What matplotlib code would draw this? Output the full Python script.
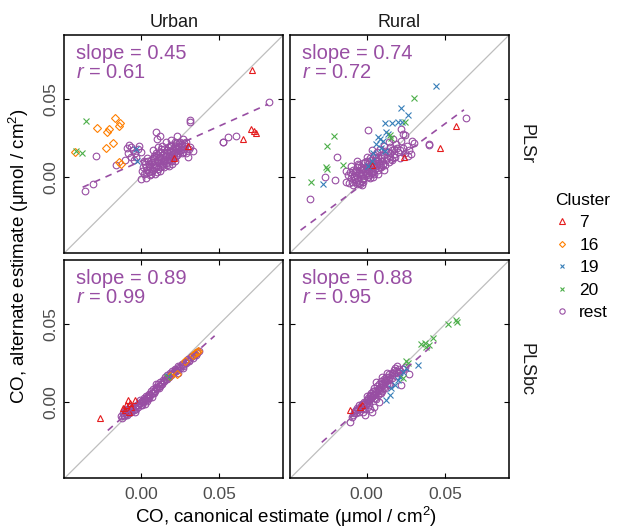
import matplotlib.pyplot as plt
from matplotlib.lines import Line2D
import numpy as np

plt.rcParams['font.family'] = ['Liberation Sans', 'DejaVu Sans']
plt.rcParams['mathtext.fontset'] = 'custom'
plt.rcParams['mathtext.rm'] = 'Liberation Sans'
plt.rcParams['mathtext.it'] = 'Liberation Sans:italic'

regions = ['Urban', 'Rural']
methods = ['PLSr', 'PLSbc']
clusters = ['7', '16', '19', '20', 'rest']

# (canonical, alternate) CO pairs per cluster, one dict per panel
urban_plsr = {
    '7': [(0.0706, 0.0682), (0.0653, 0.0243), (0.0702, 0.0307), (0.0723, 0.0296),
          (0.0732, 0.0281), (0.0298, 0.0195), (0.0211, 0.0118)],
    '16': [(-0.0162, 0.0376), (-0.0134, 0.0343), (-0.0138, 0.0328), (-0.0277, 0.0315),
           (-0.0202, 0.0307), (-0.0213, 0.0285), (-0.0177, 0.0215), (-0.0219, 0.0182),
           (-0.0421, 0.0157), (-0.0138, 0.0092), (-0.0128, 0.0082)],
    '19': [(-0.0028, 0.0178), (-0.0023, 0.0103)],
    '20': [(-0.0351, 0.0356), (-0.0411, 0.0163), (-0.0374, 0.0150)],
    'rest': [(-0.0357, -0.0090), (-0.0302, -0.0043), (-0.0283, 0.0131), (-0.0155, 0.0075),
             (0.0004, -0.0011), (0.0313, 0.0365), (0.0315, 0.0352), (0.0096, 0.0285),
             (0.0121, 0.0262), (0.0104, 0.0245), (0.0525, 0.0221), (0.0553, 0.0258),
             (0.0604, 0.0260), (0.0813, 0.0479), (0.0313, 0.0188), (0.0334, 0.0167),
             (0.0521, 0.0225), (-0.0075, 0.0205), (-0.0060, 0.0190), (-0.0050, 0.0170),
             (-0.0080, 0.0150), (-0.0040, 0.0150), (-0.0020, 0.0175), (-0.0065, 0.0125),
             (-0.0100, 0.0110), (-0.0030, 0.0130), (-0.0010, 0.0200), (0.0000, 0.0160),
             (-0.0045, 0.0110), (-0.0085, 0.0185), (0.0010, 0.0040), (0.0020, 0.0020),
             (0.0030, 0.0065), (0.0040, 0.0045), (0.0050, 0.0085), (0.0055, 0.0030),
             (0.0060, 0.0060), (0.0065, 0.0105), (0.0070, 0.0040), (0.0075, 0.0080),
             (0.0080, 0.0120), (0.0085, 0.0060), (0.0090, 0.0095), (0.0095, 0.0140),
             (0.0100, 0.0075), (0.0105, 0.0110), (0.0110, 0.0050), (0.0115, 0.0130),
             (0.0120, 0.0090), (0.0125, 0.0160), (0.0130, 0.0115), (0.0135, 0.0070),
             (0.0140, 0.0140), (0.0145, 0.0100), (0.0150, 0.0175), (0.0155, 0.0125),
             (0.0160, 0.0090), (0.0165, 0.0150), (0.0170, 0.0110), (0.0175, 0.0190),
             (0.0180, 0.0135), (0.0185, 0.0160), (0.0190, 0.0100), (0.0195, 0.0205),
             (0.0200, 0.0145), (0.0205, 0.0175), (0.0210, 0.0125), (0.0215, 0.0195),
             (0.0220, 0.0160), (0.0225, 0.0215), (0.0230, 0.0140), (0.0235, 0.0180),
             (0.0240, 0.0200), (0.0245, 0.0165), (0.0250, 0.0225), (0.0255, 0.0190),
             (0.0260, 0.0150), (0.0265, 0.0210), (0.0270, 0.0245), (0.0275, 0.0180),
             (0.0280, 0.0200), (0.0040, 0.0120), (0.0020, 0.0100), (0.0080, 0.0170),
             (0.0110, 0.0190), (0.0150, 0.0060), (0.0060, 0.0010), (0.0090, 0.0020),
             (0.0030, -0.0005), (0.0120, 0.0035), (0.0200, 0.0080), (0.0160, 0.0220),
             (0.0190, 0.0235), (0.0230, 0.0260), (0.0285, 0.0155), (0.0290, 0.0225),
             (0.0305, 0.0175), (0.0300, 0.0130), (0.0015, 0.0060), (0.0025, 0.0085),
             (0.0035, 0.0025), (0.0045, 0.0100), (0.0055, 0.0070), (0.0065, 0.0020),
             (0.0070, 0.0095), (0.0080, 0.0045), (0.0085, 0.0135), (0.0095, 0.0060),
             (0.0100, 0.0155), (0.0105, 0.0030), (0.0110, 0.0095), (0.0120, 0.0125),
             (0.0125, 0.0060), (0.0130, 0.0175), (0.0140, 0.0085), (0.0145, 0.0155),
             (0.0150, 0.0115), (0.0160, 0.0135), (0.0165, 0.0075), (0.0170, 0.0170),
             (0.0180, 0.0105), (0.0185, 0.0200), (0.0190, 0.0130), (0.0195, 0.0165),
             (0.0205, 0.0115), (0.0210, 0.0155), (0.0215, 0.0225), (0.0225, 0.0135),
             (0.0230, 0.0185), (0.0240, 0.0150), (0.0245, 0.0215), (0.0255, 0.0170),
             (0.0260, 0.0200), (0.0270, 0.0160), (0.0275, 0.0215), (0.0220, 0.0100),
             (0.0180, 0.0070), (0.0135, 0.0195)],
}

rural_plsr = {
    '7': [(0.0572, 0.0326), (0.0466, 0.0187), (0.0238, 0.0130), (0.0036, 0.0074)],
    '16': [],
    '19': [(0.0443, 0.0581), (0.0222, 0.0438), (0.0264, 0.0396), (0.0116, 0.0343),
           (0.0165, 0.0347), (0.0200, 0.0351), (0.0226, 0.0351), (0.0127, 0.0287),
           (0.0137, 0.0272), (0.0074, 0.0257), (0.0084, 0.0240), (0.0105, 0.0230),
           (0.0063, 0.0209), (0.0095, 0.0187), (0.0116, 0.0166), (0.0042, 0.0151),
           (-0.0274, -0.0043), (0.0032, 0.0102), (0.0011, 0.0070)],
    '20': [(0.0302, 0.0502), (-0.0205, 0.0262), (-0.0253, 0.0198), (-0.0257, 0.0060),
           (-0.0253, 0.0049), (-0.0352, -0.0032), (-0.0148, 0.0074), (0.0243, 0.0353),
           (0.0148, 0.0266), (0.0158, 0.0251)],
    'rest': [(-0.0359, -0.0143), (-0.0264, 0.0000), (-0.0200, -0.0019), (-0.0190, 0.0130),
             (0.0633, 0.0379), (0.0395, 0.0204), (0.0400, 0.0208), (0.0011, 0.0298),
             (0.0217, 0.0304), (0.0230, 0.0275), (0.0245, 0.0265), (0.0264, 0.0134),
             (0.0280, 0.0145), (0.0150, 0.0190), (-0.0100, 0.0070), (-0.0130, -0.0030),
             (-0.0110, -0.0040), (-0.0100, -0.0010), (-0.0090, 0.0020), (-0.0085, -0.0055),
             (-0.0080, 0.0000), (-0.0075, 0.0040), (-0.0070, -0.0030), (-0.0065, 0.0015),
             (-0.0060, 0.0060), (-0.0055, -0.0020), (-0.0050, 0.0030), (-0.0045, 0.0075),
             (-0.0040, -0.0045), (-0.0035, 0.0010), (-0.0030, 0.0050), (-0.0025, 0.0020),
             (-0.0020, 0.0090), (-0.0015, -0.0010), (-0.0010, 0.0040), (-0.0005, 0.0065),
             (0.0000, 0.0025), (0.0005, 0.0100), (0.0010, 0.0050), (0.0015, 0.0010),
             (0.0020, 0.0075), (0.0025, 0.0120), (0.0030, 0.0040), (0.0035, 0.0090),
             (0.0040, 0.0060), (0.0045, 0.0140), (0.0050, 0.0020), (0.0055, 0.0105),
             (0.0060, 0.0070), (0.0065, 0.0160), (0.0070, 0.0045), (0.0075, 0.0125),
             (0.0080, 0.0090), (0.0085, 0.0180), (0.0090, 0.0060), (0.0095, 0.0140),
             (0.0100, 0.0100), (0.0110, 0.0200), (0.0115, 0.0075), (0.0120, 0.0165),
             (0.0130, 0.0120), (0.0140, 0.0220), (0.0145, 0.0095), (0.0150, 0.0150),
             (0.0160, 0.0110), (0.0170, 0.0240), (0.0175, 0.0175), (0.0180, 0.0130),
             (0.0190, 0.0210), (0.0200, 0.0160), (0.0210, 0.0120), (0.0220, 0.0230),
             (0.0235, 0.0185), (0.0245, 0.0150), (0.0255, 0.0200), (0.0270, 0.0170),
             (0.0290, 0.0230), (0.0300, 0.0215), (0.0010, 0.0000), (-0.0025, -0.0030),
             (0.0040, 0.0000), (0.0075, 0.0020), (0.0110, 0.0045), (-0.0115, 0.0010),
             (-0.0130, 0.0040), (-0.0060, 0.0100), (0.0000, 0.0130), (0.0035, 0.0170),
             (-0.0105, 0.0030), (-0.0095, -0.0035), (-0.0085, 0.0045), (-0.0075, -0.0015),
             (-0.0065, 0.0030), (-0.0055, 0.0085), (-0.0050, -0.0040), (-0.0040, 0.0025),
             (-0.0035, 0.0065), (-0.0025, -0.0005), (-0.0020, 0.0045), (-0.0010, 0.0095),
             (-0.0005, 0.0010), (0.0005, 0.0055), (0.0010, 0.0080), (0.0015, 0.0035),
             (0.0025, 0.0060), (0.0030, 0.0105), (0.0040, 0.0030), (0.0045, 0.0085),
             (0.0055, 0.0050), (0.0060, 0.0125), (0.0065, 0.0075), (0.0075, 0.0100),
             (0.0085, 0.0075), (0.0090, 0.0120), (0.0105, 0.0085), (0.0110, 0.0140),
             (0.0125, 0.0105), (0.0135, 0.0160), (0.0150, 0.0125), (0.0160, 0.0170),
             (0.0175, 0.0145), (0.0195, 0.0185), (0.0215, 0.0170), (-0.0060, -0.0045),
             (0.0020, -0.0010), (-0.0030, -0.0050)],
}

urban_plsbc = {
    '7': [(-0.0262, -0.0098), (-0.0102, -0.0049), (-0.0081, 0.0015), (-0.0070, -0.0002),
          (-0.0038, 0.0015), (-0.0091, -0.0017), (-0.0060, -0.0028), (-0.0113, -0.0038),
          (-0.0074, -0.0060)],
    '16': [(0.0355, 0.0321), (0.0345, 0.0314), (0.0365, 0.0330), (0.0335, 0.0305),
           (0.0281, 0.0267), (0.0228, 0.0182), (0.0185, 0.0171)],
    '19': [(0.0174, 0.0169)],
    '20': [(0.0168, 0.0160)],
    'rest': [(-0.0125, -0.0085), (-0.0115, -0.0070), (-0.0105, -0.0090), (-0.0100, -0.0065),
             (-0.0090, -0.0080), (-0.0085, -0.0055), (-0.0075, -0.0070), (-0.0070, -0.0045),
             (-0.0060, -0.0060), (-0.0055, -0.0035), (-0.0045, -0.0050), (-0.0040, -0.0025),
             (-0.0030, -0.0040), (-0.0025, -0.0015), (-0.0015, -0.0030), (-0.0010, -0.0005),
             (0.0000, -0.0015), (0.0005, 0.0010), (0.0015, 0.0000), (0.0020, 0.0025),
             (0.0030, 0.0015), (0.0035, 0.0040), (0.0045, 0.0030), (0.0050, 0.0055),
             (0.0060, 0.0045), (0.0065, 0.0070), (0.0075, 0.0060), (0.0080, 0.0085),
             (0.0090, 0.0075), (0.0095, 0.0100), (0.0105, 0.0090), (0.0110, 0.0115),
             (0.0120, 0.0105), (0.0125, 0.0130), (0.0135, 0.0120), (0.0140, 0.0145),
             (0.0150, 0.0135), (0.0155, 0.0160), (0.0165, 0.0150), (0.0170, 0.0175),
             (0.0180, 0.0165), (0.0185, 0.0190), (0.0195, 0.0180), (0.0200, 0.0200),
             (0.0210, 0.0195), (0.0220, 0.0215), (0.0230, 0.0205), (0.0240, 0.0230),
             (0.0250, 0.0220), (0.0260, 0.0245), (0.0270, 0.0235), (0.0280, 0.0260),
             (0.0290, 0.0250), (0.0300, 0.0275), (0.0310, 0.0265), (0.0320, 0.0290),
             (0.0330, 0.0285), (0.0340, 0.0305), (0.0350, 0.0300), (0.0360, 0.0320),
             (0.0370, 0.0330), (0.0025, -0.0010), (0.0010, -0.0020), (-0.0005, 0.0015),
             (0.0040, 0.0010), (0.0070, 0.0035), (0.0100, 0.0120), (-0.0035, -0.0060),
             (0.0235, 0.0185), (0.0270, 0.0218), (-0.0120, -0.0100), (-0.0110, -0.0080),
             (-0.0095, -0.0075), (-0.0080, -0.0065), (-0.0065, -0.0050), (-0.0050, -0.0040),
             (-0.0035, -0.0030), (-0.0020, -0.0015), (-0.0005, -0.0005), (0.0010, 0.0010),
             (0.0025, 0.0020), (0.0040, 0.0035), (0.0055, 0.0050), (0.0070, 0.0060),
             (0.0085, 0.0075), (0.0100, 0.0090), (0.0115, 0.0105), (0.0130, 0.0120),
             (0.0145, 0.0135), (0.0160, 0.0150), (0.0175, 0.0160), (0.0190, 0.0175),
             (0.0205, 0.0190), (0.0215, 0.0205), (0.0225, 0.0200), (0.0245, 0.0225),
             (0.0265, 0.0240), (0.0285, 0.0255), (0.0305, 0.0270), (0.0325, 0.0295),
             (0.0345, 0.0310), (0.0355, 0.0315), (-0.0100, -0.0050), (-0.0085, -0.0040),
             (-0.0070, -0.0030), (0.0050, 0.0030), (0.0085, 0.0060), (0.0115, 0.0090)],
}

rural_plsbc = {
    '7': [(-0.0105, -0.0049), (-0.0042, -0.0032), (-0.0032, -0.0018)],
    '16': [],
    '19': [(0.0327, 0.0238), (0.0253, 0.0217), (0.0232, 0.0196), (0.0211, 0.0164),
           (0.0158, 0.0089), (0.0148, 0.0047), (0.0127, 0.0015), (0.0179, 0.0111),
           (0.0200, 0.0143)],
    '20': [(0.0517, 0.0504), (0.0570, 0.0526), (0.0576, 0.0515), (0.0348, 0.0372),
           (0.0369, 0.0377), (0.0380, 0.0355), (0.0395, 0.0366), (0.0422, 0.0409),
           (0.0253, 0.0266), (0.0264, 0.0253), (0.0232, 0.0153)],
    'rest': [(-0.0105, -0.0123), (-0.0090, -0.0095), (-0.0080, -0.0070), (-0.0070, -0.0050),
             (-0.0060, -0.0035), (-0.0050, -0.0060), (-0.0045, -0.0020), (-0.0040, -0.0045),
             (-0.0030, -0.0010), (-0.0025, -0.0035), (-0.0015, 0.0005), (-0.0010, -0.0080),
             (-0.0005, -0.0020), (0.0000, 0.0015), (0.0005, -0.0005), (0.0010, 0.0030),
             (0.0015, 0.0010), (0.0020, 0.0045), (0.0025, 0.0020), (0.0030, 0.0060),
             (0.0036, -0.0060), (0.0035, 0.0035), (0.0040, 0.0075), (0.0045, 0.0050),
             (0.0050, 0.0090), (0.0055, 0.0030), (0.0060, 0.0065), (0.0065, 0.0105),
             (0.0070, 0.0045), (0.0075, 0.0080), (0.0080, 0.0120), (0.0085, 0.0060),
             (0.0090, 0.0095), (0.0095, 0.0135), (0.0100, 0.0075), (0.0105, 0.0110),
             (0.0110, 0.0150), (0.0116, 0.0132), (0.0120, 0.0090), (0.0125, 0.0165),
             (0.0130, 0.0120), (0.0140, 0.0180), (0.0145, 0.0140), (0.0150, 0.0110),
             (0.0160, 0.0190), (0.0165, 0.0155), (0.0175, 0.0205), (0.0180, 0.0217),
             (0.0185, 0.0170), (0.0195, 0.0230), (0.0200, 0.0185), (0.0215, 0.0200),
             (0.0222, 0.0111), (0.0230, 0.0215), (0.0243, 0.0228), (0.0080, 0.0000),
             (0.0050, -0.0030), (0.0020, -0.0040), (-0.0020, -0.0060), (0.0000, 0.0040),
             (0.0060, 0.0130), (0.0100, 0.0160), (0.0130, 0.0190), (0.0270, 0.0180),
             (-0.0085, -0.0080), (-0.0075, -0.0055), (-0.0065, -0.0070), (-0.0055, -0.0045),
             (-0.0035, -0.0025), (-0.0020, -0.0010), (-0.0005, 0.0005), (0.0010, 0.0015),
             (0.0025, 0.0040), (0.0040, 0.0050), (0.0055, 0.0070), (0.0070, 0.0085),
             (0.0085, 0.0100), (0.0100, 0.0120), (0.0115, 0.0140), (0.0130, 0.0150),
             (0.0145, 0.0165), (0.0160, 0.0175), (0.0175, 0.0185), (0.0190, 0.0200),
             (0.0205, 0.0215), (0.0140, 0.0120), (0.0110, 0.0100), (0.0080, 0.0070),
             (0.0050, 0.0050), (0.0030, 0.0025), (0.0015, -0.0015), (-0.0010, -0.0040),
             (0.0060, 0.0020), (0.0095, 0.0060)],
}

# regression of alternate on canonical, per panel (TL, TR, BL, BR)
fit_slope = [0.45, 0.74, 0.89, 0.88]
fit_r = [0.61, 0.72, 0.99, 0.95]
fit_intercept = [0.010, -0.003, 0.0007, -0.0005]
fit_xrange = [(-0.037, 0.081), (-0.042, 0.062), (-0.021, 0.047), (-0.0285, 0.0443)]

lims = (-0.0487, 0.0907)
ticks = [0.0, 0.05]
tick_labels = ['0.00', '0.05']

purple = '#984EA3'
styles = {
    '7': dict(marker='^', color='#E41A1C', ms=5.0),
    '16': dict(marker='D', color='#FF7F00', ms=3.8),
    '19': dict(marker='x', color='#377EB8', ms=4.3),
    '20': dict(marker='x', color='#4DAF4A', ms=4.3),
    'rest': dict(marker='o', color=purple, ms=4.8),
}

fig = plt.figure(figsize=(6.18, 5.29), dpi=100)

panels = [urban_plsr, rural_plsr, urban_plsbc, rural_plsbc]
lefts = [0.1040, 0.4693]
bottoms = [0.5217, 0.0955]
w, h = 0.3544, 0.4121

for i, data in enumerate(panels):
    row, col = divmod(i, 2)
    ax = fig.add_axes([lefts[col], bottoms[row], w, h])

    ax.plot(lims, lims, color='#BEBEBE', lw=0.9, zorder=1)

    for c in ['rest', '7', '16', '19', '20']:
        pts = np.array(data[c]).reshape(-1, 2)
        if len(pts) == 0:
            continue
        st = styles[c]
        ax.plot(pts[:, 0], pts[:, 1], linestyle='none', marker=st['marker'],
                ms=st['ms'], mfc='none', mec=st['color'], mew=0.8, zorder=2)

    xs = np.array(fit_xrange[i])
    ax.plot(xs, fit_slope[i] * xs + fit_intercept[i], color=purple, lw=1.2,
            ls=(0, (4, 3.5)), zorder=3)

    ax.text(0.053, 0.89, 'slope = %.2f' % fit_slope[i], transform=ax.transAxes,
            color=purple, fontsize=14.5, va='baseline')
    ax.text(0.053, 0.803, r'$r$ = %.2f' % fit_r[i], transform=ax.transAxes,
            color=purple, fontsize=14.5, va='baseline')

    ax.set_xlim(lims)
    ax.set_ylim(lims)
    ax.set_xticks(ticks)
    ax.set_yticks(ticks)
    ax.set_xticklabels(tick_labels)
    ax.set_yticklabels(tick_labels, rotation=90, va='center')
    ax.tick_params(direction='in', top=True, right=True, length=3.5, width=0.8,
                   labelsize=12.5, labelcolor='#4D4D4D', pad=6)
    ax.tick_params(axis='y', pad=4)
    ax.tick_params(labelbottom=(row == 1), labelleft=(col == 0))
    for sp in ax.spines.values():
        sp.set_linewidth(1.1)
        sp.set_color('black')

# strip labels
for col, name in enumerate(regions):
    fig.text(lefts[col] + w / 2, 0.957, name, ha='center', va='center',
             fontsize=13, color='#1A1A1A')
for row, name in enumerate(methods):
    fig.text(0.851, bottoms[row] + h / 2, name, ha='center', va='center',
             rotation=-90, fontsize=13, color='#1A1A1A')

fig.text(0.463, 0.023, r'CO, canonical estimate ($\mathrm{\mu}$mol / cm$^2$)',
         ha='center', va='center', fontsize=13.5)
fig.text(0.030, 0.515, r'CO, alternate estimate ($\mathrm{\mu}$mol / cm$^2$)',
         ha='center', va='center', rotation=90, fontsize=13.5)

handles = [Line2D([], [], linestyle='none', marker=styles[c]['marker'],
                  ms=styles[c]['ms'] * 0.8, mfc='none', mec=styles[c]['color'], mew=0.8)
           for c in clusters]
fig.legend(handles, clusters, title='Cluster', loc='upper left',
           bbox_to_anchor=(0.898, 1 - 193 / 529), frameon=False, fontsize=12.5,
           title_fontsize=12.5, handlelength=0.8, handletextpad=0.6,
           labelspacing=0.42, borderpad=0, borderaxespad=0, alignment='left')

fig.savefig('out.png', dpi=100)
